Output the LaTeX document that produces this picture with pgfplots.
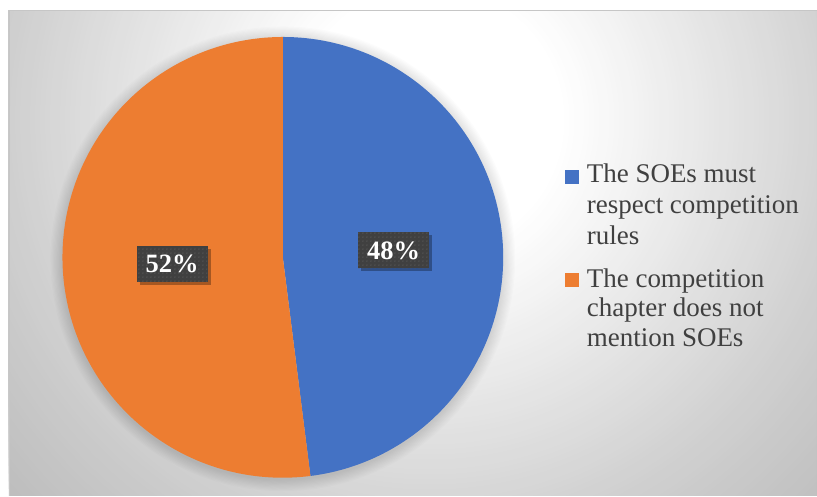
\documentclass[border=0pt]{standalone}
\usepackage{pgfplots}
\pgfplotsset{compat=1.18}
\usepackage{pgfplotstable}
\usepackage{fontspec}
\setmainfont{Liberation Serif}
\usetikzlibrary{shadows,patterns.meta}

\definecolor{soeblue}{HTML}{4472C4}
\definecolor{soeorange}{HTML}{ED7D31}
\definecolor{lblbox}{HTML}{404040}
\definecolor{lbldot}{HTML}{5A5A5A}
\definecolor{txtgray}{HTML}{404040}
\definecolor{bgC}{RGB}{190,190,190}

% pie shares (%)
\pgfplotstableread{
share
48
52
}\piedata

\begin{document}
\begin{tikzpicture}[
    lbl/.style={fill=lblbox,
      postaction={pattern={Dots[distance=4pt,radius=0.75pt]},pattern color=lbldot},
      drop shadow={shadow xshift=3pt,shadow yshift=-3pt,opacity=0.3,fill=black},
      text=white, font=\fontsize{26.5}{30}\selectfont\bfseries,
      minimum width=71pt, minimum height=36pt, inner sep=0pt},
    leg/.style={anchor=base west, inner sep=0pt, text=txtgray,
      font=\fontsize{27}{31}\selectfont},
]
% chart area background: radial grey-to-white, drawn as rings
\fill[white] (0,0) rectangle (817pt,496pt);
\begin{scope}
  \clip (9pt,0pt) rectangle (817pt,485pt);
  \foreach \d in {565,560,...,135}{
    \pgfmathsetmacro\g{\d<238 ? 255-17*(\d-135)/103 :
      (\d<420 ? 238-30*(\d-238)/182 : 208-18*(\d-420)/140)}
    \pgfmathsetmacro\t{max(0,min(100,(\g-190)/65*100))}
    \fill[white!\t!bgC] (430pt,376pt) circle (\d pt);
  }
  % soft glow under the pie
  \foreach \i in {1,...,10}
    \fill[black,opacity=0.012] (283pt,237pt) circle (220.5pt+\i*1.2pt);
\end{scope}
\draw[gray!45,line width=1pt] (9.5pt,0pt) -- (9.5pt,485.5pt) -- (817pt,485.5pt);

\pgfplotstablegetelem{0}{share}\of\piedata \pgfmathsetmacro\shA{\pgfplotsretval}
\pgfplotstablegetelem{1}{share}\of\piedata \pgfmathsetmacro\shB{\pgfplotsretval}
\pgfmathtruncatemacro\pA{\shA}
\pgfmathtruncatemacro\pB{\shB}
\pgfmathsetmacro\aA{90-3.6*\shA}
\pgfmathsetmacro\aB{\aA-3.6*\shB}
\pgfmathsetmacro\mA{(90+\aA)/2}
\pgfmathsetmacro\mB{(\aA+\aB)/2}

\begin{axis}[
    at={(0pt,0pt)}, anchor=south west,
    width=817pt, height=496pt, scale only axis,
    xmin=0, xmax=817, ymin=0, ymax=496,
    hide axis, clip=false,
]
% wedges, clockwise from 12 o'clock
\fill[soeblue] (axis cs:283,238.5) -- ++(90:220.5pt)
  arc[start angle=90, end angle=\aA, radius=220.5pt] -- cycle;
\fill[soeorange] (axis cs:283,238.5) -- ++(\aA:220.5pt)
  arc[start angle=\aA, end angle=\aB, radius=220.5pt] -- cycle;

% data labels
\node[lbl, shift={(\mA:111pt)}] at (axis cs:283,238.5) {\pA\%};
\node[lbl, shift={(\mB:111pt)}] at (axis cs:283,238.5) {\pB\%};

% legend
\fill[soeblue] (axis cs:565,311.5) rectangle (axis cs:579,325.5);
\node[leg] at (axis cs:587,313) {The SOEs must};
\node[leg] at (axis cs:587,282.5) {respect competition};
\node[leg] at (axis cs:587,251) {rules};
\fill[soeorange] (axis cs:565,209) rectangle (axis cs:579,223);
\node[leg] at (axis cs:587,208) {The competition};
\node[leg] at (axis cs:587,179) {chapter does not};
\node[leg] at (axis cs:587,149) {mention SOEs};
\end{axis}
\end{tikzpicture}
\end{document}
